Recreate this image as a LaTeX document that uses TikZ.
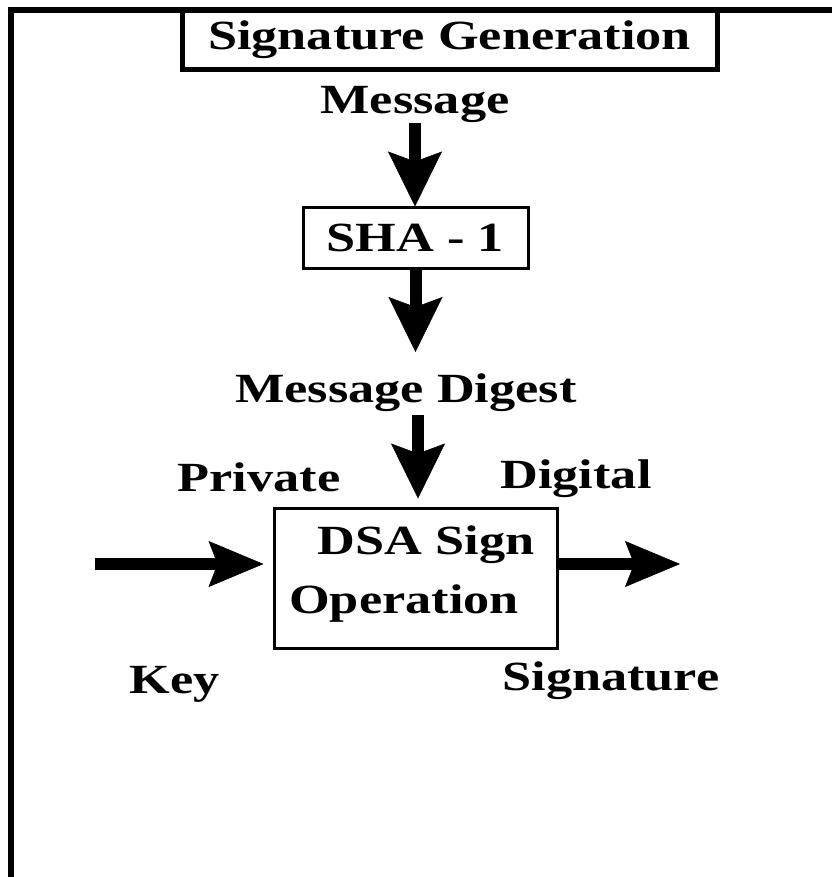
\documentclass[tikz,border=0pt]{standalone}
\usepackage{fontspec}
\setmainfont{Liberation Serif}[FakeStretch=1.26]
\usetikzlibrary{arrows.meta}

\begin{document}
\begin{tikzpicture}[x=1pt,y=-1pt,
  lbl/.style={font=\fontsize{41.5}{45}\selectfont\bfseries, inner sep=0pt, anchor=base},
  box/.style={draw, line width=3pt, inner sep=0pt, font=\fontsize{41.5}{45}\selectfont\bfseries},
  flow/.style={line width=12pt, -{Stealth[length=55pt,width=54pt,inset=10pt,line width=0.5pt]}},
  sideflow/.style={line width=12pt, -{Stealth[length=55pt,width=46pt,inset=9pt,line width=0.5pt]}}]
  \useasboundingbox (0,0) rectangle (832,877);

  % outer frame: top and left edges only
  \draw[line width=6pt] (11,877) -- (11,10) -- (832,10);

  % boxes
  \node[box, line width=5pt, minimum width=535pt, minimum height=60pt] (title) at (449.5,40) {Signature Generation};
  \node[box, minimum width=225pt, minimum height=60pt] (sha) at (415.5,238) {SHA - 1};
  \node[box, minimum width=283pt, minimum height=140pt] (dsa) at (415.5,578) {};
  \node[lbl] (dsaA) at (426,554) {DSA Sign};
  \node[lbl] (dsaB) at (404,613) {Operation};

  % labels
  \node[lbl] (msg) at (415,114) {Message};
  \node[lbl] (digest) at (406,402) {Message Digest};
  \node[lbl] (priv) at (259,491) {Private};
  \node[lbl] (key) at (175,693) {Key};
  \node[lbl] (digi) at (576,488) {Digital};
  \node[lbl] (sig) at (611,690) {Signature};

  % free ends of the side arrows
  \coordinate (kin) at (95,564);
  \coordinate (sout) at (680,564);

  % flow arrows
  \draw[flow] (msg.south) -- (msg.south |- sha.north);
  \draw[flow, shorten >=21pt] (sha.south) -- (sha.south |- digest.north);
  \draw[flow, shorten >=8pt, shorten <=4pt] ([xshift=2.5pt]dsa.north |- digest.south) -- ([xshift=2.5pt]dsa.north);
  \draw[sideflow, shorten >=9pt] (kin) -- (kin -| dsa.west);
  \draw[sideflow] (sout -| dsa.east) -- (sout);
\end{tikzpicture}
\end{document}
